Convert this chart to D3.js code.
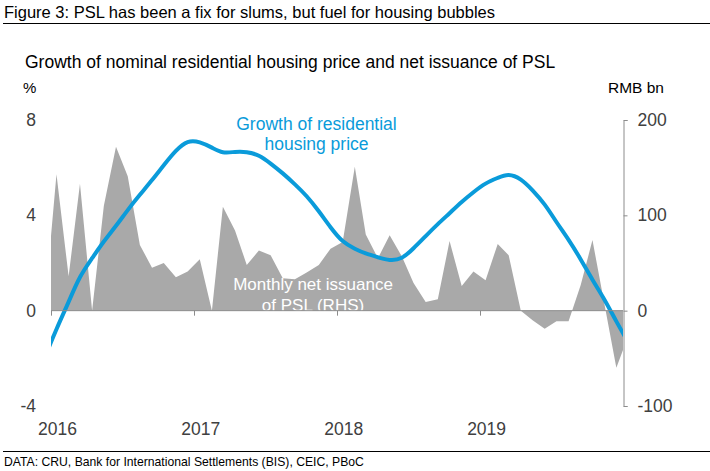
<!DOCTYPE html>
<html>
<head>
<meta charset="utf-8">
<script src="https://cdn.jsdelivr.net/npm/d3@7"></script>
<style>
  html, body { margin: 0; padding: 0; background: #fff; }
  svg { display: block; font-family: "Liberation Sans", Arial, sans-serif; }
</style>
</head>
<body>
<svg id="chart" width="710" height="471"></svg>
<script>
// ---- data ----
const months = [
  "2015-12",
  "2016-01","2016-02","2016-03","2016-04","2016-05","2016-06","2016-07","2016-08","2016-09","2016-10","2016-11","2016-12",
  "2017-01","2017-02","2017-03","2017-04","2017-05","2017-06","2017-07","2017-08","2017-09","2017-10","2017-11","2017-12",
  "2018-01","2018-02","2018-03","2018-04","2018-05","2018-06","2018-07","2018-08","2018-09","2018-10","2018-11","2018-12",
  "2019-01","2019-02","2019-03","2019-04","2019-05","2019-06","2019-07","2019-08","2019-09","2019-10","2019-11","2019-12",
  "2020-01"
];
// Monthly net issuance of PSL, RMB bn (RHS)
const pslNet = [
  0,
  143, 36, 133, 0, 110, 172, 141, 69, 45, 50, 35, 41,
  54, 0, 109, 84, 48, 63, 58, 34, 33, 40, 48, 65,
  72, 151, 80, 55, 79, 57, 29, 9, 12, 73, 26, 41,
  32, 70, 58, 0, -10, -19, -11, -11, 27, 74, 6, -60,
  -26
];
// Growth of residential housing price, % (LHS)
const priceGrowth = [
  -2.0,
  -0.78, 0.37, 1.4, 2.2, 2.9, 3.56, 4.22, 4.86, 5.48, 6.1, 6.7, 7.07,
  7.06, 6.84, 6.65, 6.66, 6.65, 6.5, 6.17, 5.76, 5.3, 4.8, 4.17, 3.5,
  2.92, 2.6, 2.4, 2.24, 2.13, 2.22, 2.62, 3.13, 3.63, 4.09, 4.56, 4.97,
  5.33, 5.57, 5.69, 5.5, 5.05, 4.45, 3.72, 2.97, 2.15, 1.3, 0.45, -0.45,
  -1.35
];
const leftTicks = [-4, 0, 4, 8];
const rightTicks = [-100, 0, 100, 200];
const yearTicks = ["2016", "2017", "2018", "2019"];

const title = "Figure 3: PSL has been a fix for slums, but fuel for housing bubbles";
const subtitle = "Growth of nominal residential housing price and net issuance of PSL";
const source = "DATA: CRU, Bank for International Settlements (BIS), CEIC, PBoC";

// ---- layout ----
const W = 710, H = 471;
const plot = { left: 51, right: 623, top: 120, bottom: 406 };
const BLUE = "#0A9BDA", GREY_AREA = "#A9A9A9", AXIS = "#8C8C8C", TXT = "#404040";

const parseM = d3.timeParse("%Y-%m");
const dates = months.map(m => d3.timeDay.offset(parseM(m), 14));

const x = d3.scaleTime()
  .domain([parseM("2016-01"), parseM("2020-01")])
  .range([plot.left, plot.right]);
const yL = d3.scaleLinear().domain([-4, 8]).range([plot.bottom, plot.top]);
const yR = d3.scaleLinear().domain([-100, 200]).range([plot.bottom, plot.top]);

const svg = d3.select("#chart");
svg.append("rect").attr("width", W).attr("height", H).attr("fill", "#fff");

// header
svg.append("text").attr("x", 4).attr("y", 17.5)
  .attr("font-size", 16.5).attr("fill", "#000").text(title);
svg.append("line").attr("x1", 3).attr("x2", W).attr("y1", 23.5).attr("y2", 23.5)
  .attr("stroke", "#000").attr("stroke-width", 1);
svg.append("text").attr("x", 25).attr("y", 68)
  .attr("font-size", 17.5).attr("fill", "#000").text(subtitle);
svg.append("text").attr("x", 23).attr("y", 93)
  .attr("font-size", 15).attr("fill", "#000").text("%");
svg.append("text").attr("x", 608).attr("y", 93)
  .attr("font-size", 15.5).attr("fill", "#000").text("RMB bn");

// footer
svg.append("line").attr("x1", 3).attr("x2", W).attr("y1", 451.5).attr("y2", 451.5)
  .attr("stroke", "#000").attr("stroke-width", 1);
svg.append("text").attr("x", 4).attr("y", 466)
  .attr("font-size", 12.2).attr("fill", "#000").text(source);

// clip
svg.append("clipPath").attr("id", "plotclip")
  .append("rect").attr("x", plot.left).attr("y", 0)
  .attr("width", plot.right - plot.left).attr("height", H);

const series = dates.map((d, i) => ({ date: d, psl: pslNet[i], price: priceGrowth[i] }));

const g = svg.append("g").attr("clip-path", "url(#plotclip)");

// area (RHS)
g.append("path").datum(series)
  .attr("fill", GREY_AREA)
  .attr("d", d3.area().x(d => x(d.date)).y0(yR(0)).y1(d => yR(d.psl)));

// white label on the area
const wl = svg.append("text").attr("text-anchor", "middle")
  .attr("font-size", 17).attr("fill", "#fff");
wl.append("tspan").attr("x", 313).attr("y", 290).text("Monthly net issuance");
wl.append("tspan").attr("x", 313).attr("y", 311).text("of PSL (RHS)");

// zero line + x ticks
svg.append("line").attr("x1", plot.left).attr("x2", plot.right)
  .attr("y1", yL(0)).attr("y2", yL(0)).attr("stroke", AXIS).attr("stroke-width", 1);
const xTickDates = yearTicks.map(y => d3.timeParse("%Y")(y));
svg.append("g").selectAll("line").data(xTickDates).join("line")
  .attr("x1", d => Math.round(x(d)) + 0.5).attr("x2", d => Math.round(x(d)) + 0.5)
  .attr("y1", yL(0)).attr("y2", yL(0) + 5)
  .attr("stroke", AXIS).attr("stroke-width", 1);
svg.append("g").selectAll("text").data(yearTicks).join("text")
  .attr("x", (d, i) => x(xTickDates[i]) + 6.5).attr("y", 435)
  .attr("text-anchor", "middle").attr("font-size", 17.5).attr("fill", TXT)
  .text(d => d);

// left axis labels (no line)
svg.append("g").selectAll("text").data(leftTicks).join("text")
  .attr("x", 36).attr("y", d => yL(d)).attr("dy", "0.35em")
  .attr("text-anchor", "end").attr("font-size", 17.5).attr("fill", TXT)
  .text(d => String(d));

// right axis
const rAxis = d3.axisRight(yR).tickValues(rightTicks).tickSize(4).tickPadding(10)
  .tickFormat(d => String(d));
const rg = svg.append("g").attr("transform", `translate(${plot.right + 0.5},0)`).call(rAxis);
rg.select(".domain").attr("stroke", AXIS);
rg.selectAll(".tick line").attr("stroke", AXIS);
rg.selectAll(".tick text").attr("font-size", 17.5).attr("fill", TXT)
  .attr("font-family", "Liberation Sans, Arial, sans-serif");

// price line (LHS)
g.append("path").datum(series)
  .attr("fill", "none").attr("stroke", BLUE).attr("stroke-width", 4)
  .attr("stroke-linejoin", "round")
  .attr("d", d3.line().x(d => x(d.date)).y(d => yL(d.price)).curve(d3.curveNatural));

// blue label
const bl = svg.append("text").attr("text-anchor", "middle")
  .attr("font-size", 17.5).attr("fill", BLUE);
bl.append("tspan").attr("x", 316.5).attr("y", 129.5).text("Growth of residential");
bl.append("tspan").attr("x", 316.5).attr("y", 149.5).text("housing price");
</script>
</body>
</html>
